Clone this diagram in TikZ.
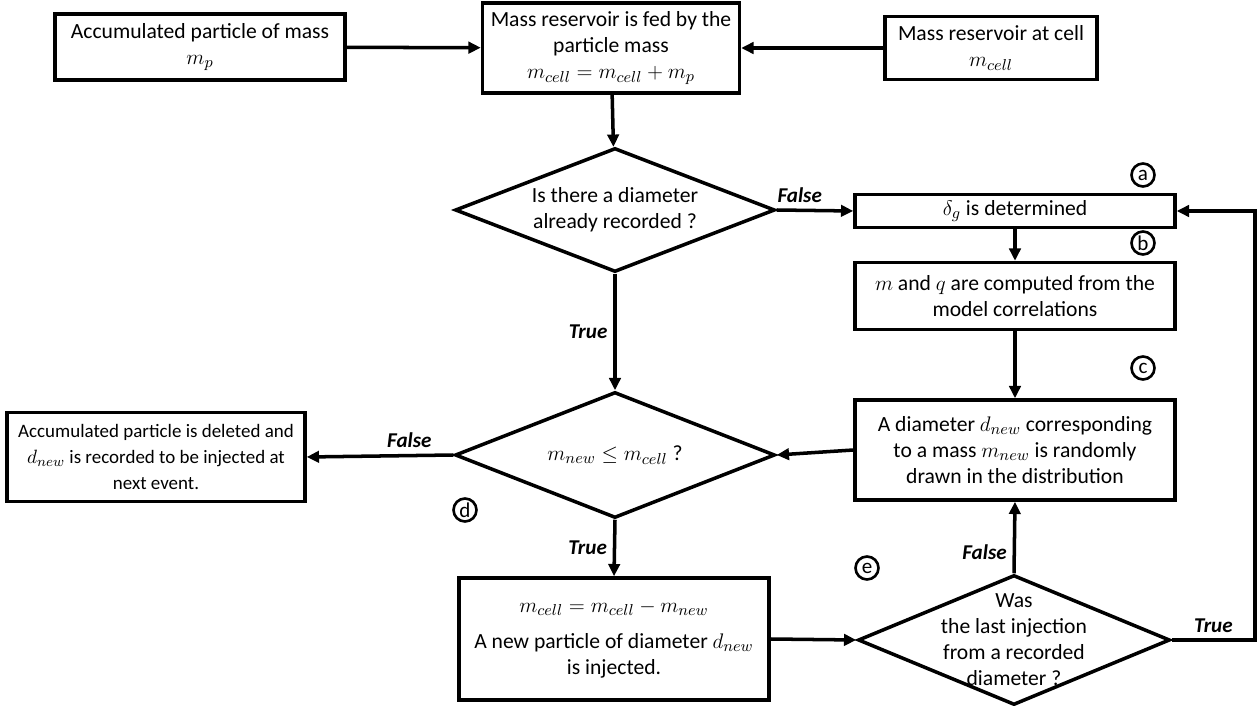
\documentclass[tikz,border=0pt]{standalone}
\usepackage{fontspec}
\setmainfont{Carlito}
\usepackage{tikz}
\usetikzlibrary{positioning,arrows.meta,shapes.geometric}

\begin{document}
\begin{tikzpicture}[
  x=0.02cm, y=-0.02cm,
  every node/.style={font=\fontsize{12.3}{14.8}\selectfont},
  block/.style={draw,line width=2pt,align=center,inner sep=2pt},
  decision/.style={draw,diamond,aspect=2.6,line width=2pt,align=center,inner sep=0pt},
  arrow/.style={-{Triangle[length=7pt,width=6.5pt]},line width=2pt},
  lab/.style={font=\fontsize{12}{14}\selectfont\bfseries\itshape},
  letter/.style={draw,circle,line width=1.5pt,inner sep=0pt,minimum size=0.46cm,font=\fontsize{12}{14}\selectfont}
]
  \useasboundingbox (0,0) rectangle (1259,706);
  % top row
  \node[block,minimum width=5.8cm,minimum height=1.32cm] (acc) at (200,47) {Accumulated particle of mass\\ $m_p$};
  \node[block,minimum width=5.14cm,minimum height=1.8cm] (feed) at (611,48) {Mass reservoir is fed by the\\ particle mass\\ $m_{cell}=m_{cell}+m_p$};
  \node[block,minimum width=4.24cm,minimum height=1.26cm] (cellres) at (991,48) {Mass reservoir at cell\\ $m_{cell}$};
  % decisions
  \node[decision,minimum width=6.4cm,minimum height=2.48cm] (recorded) at (615,210) {Is there a diameter\\ already recorded ?};
  \node[decision,minimum width=6.4cm,minimum height=2.52cm] (enough) at (615,455) {$m_{new}\leq m_{cell}$ ?};
  \node[decision,minimum width=6.24cm,minimum height=2.6cm] (last) at (1014,640) {};
  \node[align=center] (lasttxt) at (last.center) {Was\\ the last injection\\ from a recorded\\ diameter ?};
  % right column
  \node[block,minimum width=6.4cm,minimum height=0.66cm] (deltag) at (1015,211) {$\delta_g$ is determined};
  \node[block,minimum width=6.4cm,minimum height=1.34cm] (corr) at (1015,296) {$m$ and $q$ are computed from the\\ model correlations};
  \node[block,minimum width=6.4cm,minimum height=2cm] (drawn) at (1015,450) {A diameter $d_{new}$ corresponding\\ to a mass $m_{new}$ is randomly\\ drawn in the distribution};
  % results
  \node[block,minimum width=5.96cm,minimum height=1.78cm,font=\fontsize{10.8}{15}\selectfont] (deleted) at (156,457) {Accumulated particle is deleted and\\ $d_{new}$ is recorded to be injected at\\ next event.};
  \node[block,minimum width=6.2cm,minimum height=2.44cm] (inject) at (614,639) {$m_{cell}=m_{cell}-m_{new}$\\[6pt] A new particle of diameter $d_{new}$\\ is injected.};
  % step letters
  \node[letter] (la) at (1143,175) {a};
  \node[letter] (lb) at (1143,243) {b};
  \node[letter] (lc) at (1143,368) {c};
  \node[letter] (ld) at (465,510) {d};
  \node[letter] (le) at (867,568) {e};
  \coordinate (rt) at (1255,640);

  \draw[arrow] (acc) -- (feed);
  \draw[arrow] (cellres) -- (feed);
  \draw[arrow] (feed) -- (recorded);
  \draw[arrow] (recorded.east) -- node[lab,above,pos=0.3]{False} (deltag.west);
  \draw[arrow] (recorded.south) -- node[lab,left]{True} (enough.north);
  \draw[arrow] (deltag) -- (corr);
  \draw[arrow] (corr) -- (drawn);
  \draw[arrow] (drawn.west) -- (enough.east);
  \draw[arrow] (enough.west) -- node[lab,above,pos=0.3]{False} (deleted.east);
  \draw[arrow] (enough.south) -- node[lab,left]{True} (inject.north);
  \draw[arrow] (inject.east) -- (last.west);
  \draw[arrow] (last.north) -- node[lab,left,pos=0.3]{False} (drawn.south);
  \draw[arrow] (last.east) -- node[lab,above]{True} (rt) |- (deltag.east);
\end{tikzpicture}
\end{document}
